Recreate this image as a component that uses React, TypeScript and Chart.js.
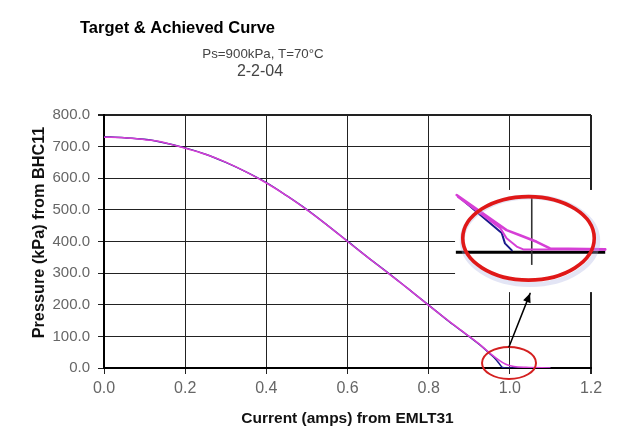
import React, { useEffect, useRef } from 'react';
import { Chart, registerables } from 'chart.js';

Chart.register(...registerables);

// ---- Data ----
const targetCurrent = [0, 0.05, 0.1, 0.13, 0.2, 0.25, 0.3, 0.35, 0.4, 0.45, 0.5, 0.55, 0.6, 0.65, 0.7, 0.75, 0.8, 0.85, 0.9, 0.93, 0.95, 0.97, 0.99, 1.01, 1.04, 1.1];
const targetPressure = [730, 728, 722, 718, 695, 676, 651, 620, 585, 545, 500, 452, 400, 350, 300, 250, 198, 148, 100, 70, 48, 28, 12, 5, 2, 0];

const achievedCurrent = [0, 0.05, 0.1, 0.13, 0.2, 0.25, 0.3, 0.35, 0.4, 0.45, 0.5, 0.55, 0.6, 0.65, 0.7, 0.75, 0.8, 0.85, 0.9, 0.93, 0.95, 0.965, 0.975, 0.982, 1.0, 1.05, 1.1];
const achievedPressure = [731, 728, 723, 717, 696, 676, 650, 620, 586, 545, 501, 452, 401, 350, 301, 250, 199, 147, 99, 69, 46, 28, 12, 2, 0, 0, 0];

const xTickValues = [0, 0.2, 0.4, 0.6, 0.8, 1.0, 1.2];
const yTickValues = [0, 100, 200, 300, 400, 500, 600, 700, 800];

const chartTitle = 'Target & Achieved Curve';
const chartSubtitle = 'Ps=900kPa, T=70°C';
const chartDate = '2-2-04';
const xAxisTitle = 'Current (amps) from EMLT31';
const yAxisTitle = 'Pressure (kPa) from BHC11';

// ---- Zoom-in callout (annotation), in data units ----
const insetBox = { x0: 0.865, x1: 1.235, y0: 563, y1: 240 };
const insetBaseline = { x0: 0.867, x1: 1.235, y: 366 };
const insetVertical = { x: 1.054, y0: 547, y1: 326 };
const insetEllipse = { x: 1.046, y: 410, rx: 0.162, ry: 132 };
const insetBlue = [[0.877, 538], [0.980, 427], [0.988, 394], [1.005, 372]];
const insetMagentaB = [[0.872, 541], [0.976, 443], [0.992, 410], [1.017, 384], [1.033, 375], [1.235, 375]];
const insetMagentaA = [[0.869, 547], [0.992, 436], [1.025, 420], [1.066, 399], [1.099, 378], [1.235, 375]];
const smallEllipse = { x: 0.998, y: 16, rx: 0.0665, ry: 50.6 };
const arrow = { x0: 0.998, y0: 67, x1: 1.05, y1: 236 };

const FONT = '"Liberation Sans", Arial, Helvetica, sans-serif';
const MAGENTA = '#d63fd6';
const NAVY = '#1a1a8c';

export default function App() {
  const ref = useRef<HTMLCanvasElement>(null);

  useEffect(() => {
    const canvas = ref.current;
    if (!canvas) return;

    const annotations = {
      id: 'annotations',
      afterDraw(chart: any) {
        const { ctx } = chart;
        const xs = chart.scales.x;
        const ys = chart.scales.y;
        const X = (v: number) => xs.getPixelForValue(v);
        const Y = (v: number) => ys.getPixelForValue(v);
        ctx.save();

        // Titles
        ctx.fillStyle = '#000';
        ctx.textBaseline = 'alphabetic';
        ctx.textAlign = 'left';
        ctx.font = `bold 16.5px ${FONT}`;
        ctx.fillText(chartTitle, 80, 33);
        ctx.fillStyle = '#444';
        ctx.textAlign = 'center';
        ctx.font = `13.3px ${FONT}`;
        ctx.fillText(chartSubtitle, 263, 58);
        ctx.font = `16px ${FONT}`;
        ctx.fillText(chartDate, 260, 76);

        // Inset white box
        ctx.fillStyle = '#fff';
        ctx.fillRect(X(insetBox.x0), Y(insetBox.y0), X(insetBox.x1) - X(insetBox.x0), Y(insetBox.y1) - Y(insetBox.y0));

        // Inset axes
        ctx.strokeStyle = '#000';
        ctx.lineWidth = 3;
        ctx.beginPath();
        ctx.moveTo(X(insetBaseline.x0), Y(insetBaseline.y));
        ctx.lineTo(X(insetBaseline.x1), Y(insetBaseline.y));
        ctx.stroke();
        ctx.lineWidth = 1.6;
        ctx.strokeStyle = '#333';
        ctx.beginPath();
        ctx.moveTo(X(insetVertical.x), Y(insetVertical.y0));
        ctx.lineTo(X(insetVertical.x), Y(insetVertical.y1));
        ctx.stroke();

        const poly = (pts: number[][], color: string, w: number) => {
          ctx.strokeStyle = color;
          ctx.lineWidth = w;
          ctx.lineJoin = 'round';
          ctx.lineCap = 'round';
          ctx.beginPath();
          pts.forEach(([a, b], i) => (i ? ctx.lineTo(X(a), Y(b)) : ctx.moveTo(X(a), Y(b))));
          ctx.stroke();
        };
        poly(insetBlue, NAVY, 2);
        poly(insetMagentaB, MAGENTA, 2);
        poly(insetMagentaA, MAGENTA, 2.6);

        // Big ellipse with halo
        const ecx = X(insetEllipse.x), ecy = Y(insetEllipse.y);
        const erx = X(insetEllipse.x + insetEllipse.rx) - ecx;
        const ery = ecy - Y(insetEllipse.y + insetEllipse.ry);
        ctx.strokeStyle = 'rgba(175,180,225,0.35)';
        ctx.lineWidth = 5;
        ctx.beginPath();
        ctx.ellipse(ecx + 1.5, ecy + 2.5, erx + 2, ery + 2, 0, 0, Math.PI * 2);
        ctx.stroke();
        ctx.strokeStyle = '#e01818';
        ctx.lineWidth = 3.6;
        ctx.beginPath();
        ctx.ellipse(ecx, ecy, erx, ery, 0, 0, Math.PI * 2);
        ctx.stroke();

        // Small ellipse
        const scx = X(smallEllipse.x), scy = Y(smallEllipse.y);
        const srx = X(smallEllipse.x + smallEllipse.rx) - scx;
        const sry = scy - Y(smallEllipse.y + smallEllipse.ry);
        ctx.strokeStyle = '#d42020';
        ctx.lineWidth = 2;
        ctx.beginPath();
        ctx.ellipse(scx, scy, srx, sry, 0, 0, Math.PI * 2);
        ctx.stroke();

        // Arrow
        const ax0 = X(arrow.x0), ay0 = Y(arrow.y0), ax1 = X(arrow.x1), ay1 = Y(arrow.y1);
        ctx.strokeStyle = '#000';
        ctx.fillStyle = '#000';
        ctx.lineWidth = 1.5;
        ctx.beginPath();
        ctx.moveTo(ax0, ay0);
        ctx.lineTo(ax1, ay1);
        ctx.stroke();
        const ang = Math.atan2(ay1 - ay0, ax1 - ax0);
        const hl = 9, hw = 4;
        ctx.beginPath();
        ctx.moveTo(ax1, ay1);
        ctx.lineTo(ax1 - hl * Math.cos(ang) + hw * Math.sin(ang), ay1 - hl * Math.sin(ang) - hw * Math.cos(ang));
        ctx.lineTo(ax1 - hl * Math.cos(ang) - hw * Math.sin(ang), ay1 - hl * Math.sin(ang) + hw * Math.cos(ang));
        ctx.closePath();
        ctx.fill();

        ctx.restore();
      },
    };

    const chart = new Chart(canvas, {
      type: 'scatter',
      data: {
        datasets: [
          {
            label: 'Target',
            data: targetCurrent.map((x, i) => ({ x, y: targetPressure[i] })),
            showLine: true,
            borderColor: MAGENTA,
            backgroundColor: MAGENTA,
            borderWidth: 1.5,
            pointRadius: 0,
            cubicInterpolationMode: 'monotone',
          },
          {
            label: 'Achieved',
            data: achievedCurrent.map((x, i) => ({ x, y: achievedPressure[i] })),
            showLine: true,
            borderColor: NAVY,
            backgroundColor: NAVY,
            borderWidth: 1.5,
            pointRadius: 0,
            cubicInterpolationMode: 'monotone',
          },
        ],
      },
      options: {
        animation: false,
        responsive: false,
        layout: { padding: { left: 0, top: 115, right: 26, bottom: 0 } },
        plugins: { legend: { display: false }, tooltip: { enabled: false }, title: { display: false } },
        scales: {
          x: {
            type: 'linear',
            min: 0,
            max: 1.2,
            afterFit: (s: any) => { s.height = 67; },
            afterBuildTicks: (s: any) => { s.ticks = xTickValues.map((value) => ({ value })); },
            ticks: {
              callback: (v: any) => Number(v).toFixed(1),
              font: { family: FONT, size: 16 },
              color: '#666',
              padding: 5,
              maxRotation: 0,
              autoSkip: false,
            },
            grid: {
              color: '#222',
              lineWidth: (c: any) => (c.tick && c.tick.value === 1.2 ? 2 : 1),
              tickLength: 6,
            },
            border: { color: '#000', width: 2 },
            title: {
              display: true,
              text: xAxisTitle,
              font: { family: FONT, size: 15.5, weight: 'bold' },
              color: '#111',
              padding: { top: 0, bottom: 7 },
            },
          },
          y: {
            type: 'linear',
            min: 0,
            max: 800,
            afterFit: (s: any) => { s.width = 104; },
            afterBuildTicks: (s: any) => { s.ticks = yTickValues.map((value) => ({ value })); },
            ticks: {
              callback: (v: any) => Number(v).toFixed(1),
              font: { family: FONT, size: 15 },
              color: '#666',
              padding: 8,
              autoSkip: false,
            },
            grid: {
              color: '#222',
              lineWidth: (c: any) => (c.tick && c.tick.value === 800 ? 2 : 1),
              tickLength: 6,
            },
            border: { color: '#000', width: 2 },
            title: {
              display: true,
              text: '    ' + yAxisTitle,
              font: { family: FONT, size: 16.3, weight: 'bold' },
              color: '#111',
              padding: { top: 30, bottom: 0 },
            },
          },
        },
      } as any,
      plugins: [annotations],
    });

    return () => chart.destroy();
  }, []);

  return (
    <div style={{ position: 'fixed', left: 0, top: 0, width: 617, height: 435, background: '#fff' }}>
      <canvas ref={ref} width={617} height={435} style={{ display: 'block', width: 617, height: 435 }} />
    </div>
  );
}
